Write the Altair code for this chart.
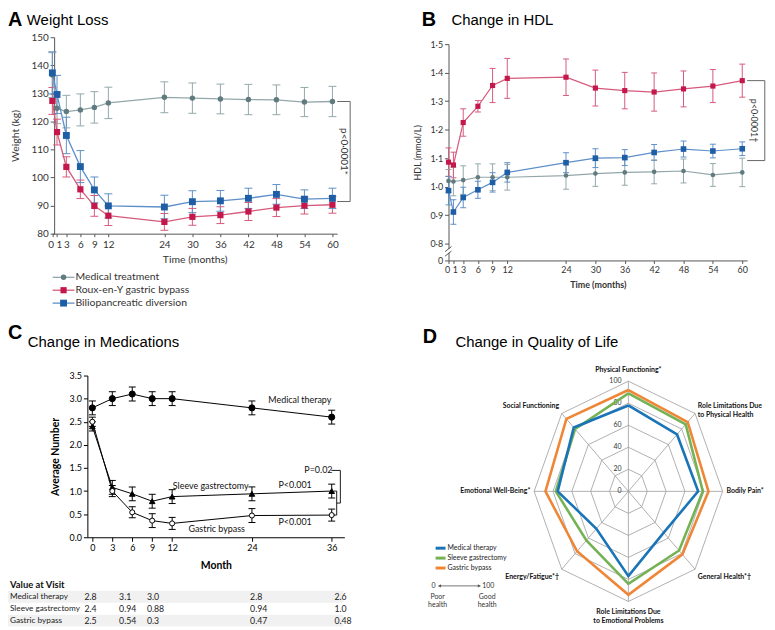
import altair as alt
import pandas as pd

W, H = 765, 620
F_AB = "Lato, Open Sans, sans-serif"
F_N = "Lato, Liberation Sans, sans-serif"
F_T = "Liberation Sans, Arial, sans-serif"

# ---------------- Panel A / B data ----------------
months_ab = [0, 1, 3, 6, 9, 12, 24, 30, 36, 42, 48, 54, 60]
groups_ab = ["Medical treatment", "Roux-en-Y gastric bypass", "Biliopancreatic diversion"]

weight_medical = [136.5, 124.7, 123.5, 124.1, 125.0, 126.6, 128.6, 128.3, 128.0, 127.8, 127.7, 126.9, 127.1]
weight_medical_err = [8.0, 5.5, 5.8, 5.7, 5.6, 5.6, 5.5, 5.4, 5.3, 5.4, 5.3, 5.2, 5.4]
weight_rygb = [127.3, 116.2, 103.8, 95.8, 89.9, 86.4, 84.2, 86.0, 86.6, 87.9, 89.3, 90.0, 90.3]
weight_rygb_err = [4.8, 4.6, 3.6, 3.3, 3.7, 3.5, 3.0, 3.0, 3.0, 3.2, 3.2, 3.0, 3.0]
weight_bpd = [137.3, 129.6, 115.0, 103.9, 95.6, 89.9, 89.5, 91.4, 91.7, 92.6, 94.0, 92.3, 92.6]
weight_bpd_err = [7.5, 6.8, 6.5, 5.7, 4.6, 4.3, 4.2, 3.9, 3.7, 3.6, 3.5, 3.3, 3.6]

hdl_medical = [1.020, 1.018, 1.023, 1.033, 1.033, 1.033, 1.039, 1.046, 1.050, 1.052, 1.055, 1.041, 1.050]
hdl_medical_err = [0.040, 0.050, 0.050, 0.047, 0.047, 0.045, 0.048, 0.045, 0.045, 0.042, 0.042, 0.040, 0.050]
hdl_rygb = [1.086, 1.076, 1.225, 1.282, 1.355, 1.380, 1.384, 1.346, 1.337, 1.332, 1.343, 1.353, 1.372]
hdl_rygb_err = [0.050, 0.045, 0.048, 0.020, 0.060, 0.070, 0.064, 0.063, 0.064, 0.067, 0.063, 0.058, 0.058]
hdl_bpd = [0.986, 0.911, 0.962, 0.989, 1.015, 1.050, 1.084, 1.100, 1.102, 1.120, 1.132, 1.125, 1.133]
hdl_bpd_err = [0.050, 0.043, 0.036, 0.030, 0.034, 0.034, 0.035, 0.033, 0.028, 0.028, 0.028, 0.024, 0.024]

weight_ticks = [80, 90, 100, 110, 120, 130, 140, 150]
hdl_ticks = [0.741, 0.8, 0.9, 1.0, 1.1, 1.2, 1.3, 1.4, 1.5]

line_cols = ["#93a7aa", "#d65a7c", "#5d8fc8"]
mark_cols = ["#5f7b7f", "#c4174b", "#1d5ea5"]
shapes_ab = ["circle", "square", "square"]

# ---------------- Panel C data ----------------
months_c = [0, 3, 6, 9, 12, 24, 36]
groups_c = ["Medical therapy", "Sleeve gastrectomy", "Gastric bypass"]
meds_medical = [2.8, 3.0, 3.1, 3.0, 3.0, 2.8, 2.6]
meds_medical_err = [0.15, 0.15, 0.15, 0.15, 0.15, 0.15, 0.15]
meds_sleeve = [2.4, 1.08, 0.94, 0.78, 0.88, 0.94, 1.0]
meds_sleeve_err = [0.1, 0.15, 0.15, 0.15, 0.15, 0.15, 0.15]
meds_bypass = [2.5, 1.0, 0.54, 0.36, 0.3, 0.47, 0.48]
meds_bypass_err = [0.1, 0.12, 0.12, 0.15, 0.13, 0.15, 0.13]
meds_ticks = [0, 0.5, 1.0, 1.5, 2.0, 2.5, 3.0, 3.5]

c_note_text = ["Medical therapy", "Sleeve gastrectomy", "Gastric bypass", "P<0.001", "P<0.001", "P=0.02"]
c_note_month = [31.2, 17.8, 18.7, 30.5, 30.5, 34.0]
c_note_value = [2.97, 1.10, 0.17, 1.14, 0.34, 1.447]

table_rows = ["Medical therapy", "Sleeve gastrectomy", "Gastric bypass"]
table_months = [0, 6, 12, 24, 36]
table_medical = ["2.8", "3.1", "3.0", "2.8", "2.6"]
table_sleeve = ["2.4", "0.94", "0.88", "0.94", "1.0"]
table_bypass = ["2.5", "0.54", "0.3", "0.47", "0.48"]

# ---------------- Panel D data ----------------
qol_domains = ["Physical Functioning*", "Role Limitations Due\nto Physical Health", "Bodily Pain*",
               "General Health*\u2020", "Role Limitations Due\nto Emotional Problems", "Energy/Fatigue*\u2020",
               "Emotional Well-Being*", "Social Functioning"]
groups_d = ["Medical therapy", "Sleeve gastrectomy", "Gastric bypass"]
qol_medical = [78, 73, 74, 53, 77, 48, 75, 82]
qol_sleeve = [89, 86, 79, 76, 84, 63, 77, 80]
qol_bypass = [92, 89, 85, 81, 94, 77, 88, 93]
qol_levels = [20, 40, 60, 80, 100]
qol_tick_labels = [0, 20, 40, 60, 80, 100]
d_cols = ["#1a74b8", "#74b254", "#ef8636"]


def long_df(months, groups, series, errors):
    rows = []
    for g, vals, errs in zip(groups, series, errors):
        for m, v, e in zip(months, vals, errs):
            rows.append({"month": m, "group": g, "value": v, "lo": v - e, "hi": v + e})
    return pd.DataFrame(rows)


def txt(text, x, y, size, weight="normal", font=F_T, align="left", baseline="alphabetic", color="#000"):
    return alt.Chart(pd.DataFrame({"t": [text]})).mark_text(
        align=align, baseline=baseline, font=font, fontSize=size, fontWeight=weight, color=color
    ).encode(x=alt.value(x), y=alt.value(y), text="t:N")


def series_panel(df, X, Y, cap, sizes, lw):
    base = alt.Chart(df)
    col = alt.Color("group:N", scale=alt.Scale(domain=groups_ab, range=line_cols), legend=None)
    err = base.mark_rule(strokeWidth=1).encode(x=X("month:Q"), y=Y("lo:Q"), y2="hi:Q", color=col)
    cap_lo = base.mark_tick(orient="horizontal", size=cap, thickness=1, opacity=1).encode(
        x=X("month:Q"), y=Y("lo:Q"), color=col)
    cap_hi = base.mark_tick(orient="horizontal", size=cap, thickness=1, opacity=1).encode(
        x=X("month:Q"), y=Y("hi:Q"), color=col)
    line = base.mark_line(strokeWidth=lw).encode(x=X("month:Q"), y=Y("value:Q"), color=col, order="month:Q")
    pts = base.mark_point(filled=True, opacity=1).encode(
        x=X("month:Q"), y=Y("value:Q"),
        fill=alt.Fill("group:N", scale=alt.Scale(domain=groups_ab, range=mark_cols), legend=None),
        shape=alt.Shape("group:N", scale=alt.Scale(domain=groups_ab, range=shapes_ab), legend=None),
        size=alt.Size("group:N", scale=alt.Scale(domain=groups_ab, range=sizes), legend=None))
    return [err, cap_lo, cap_hi, line, pts]


def bracket_df(x0, x1, top, bot):
    return pd.DataFrame({"x": [x0, x1, x0], "x2": [x1, x1, x1], "y": [top, top, bot], "y2": [top, bot, bot]})


axis_common = dict(grid=False, labelOverlap=False, labelFlush=False, domainColor="#555", tickColor="#555",
                   labelColor="#333", titleColor="#333")


def month_label_offset(d):
    return {"condition": [{"test": "datum.value == 0", "value": -d},
                          {"test": "datum.value == 1", "value": d}], "value": 0}


def make_enc(scale, axis, ch):
    if ch == "x":
        return lambda f: alt.X(f, scale=scale, axis=axis)
    return lambda f: alt.Y(f, scale=scale, axis=axis)


# ================= Panel A =================
df_a = long_df(months_ab, groups_ab, [weight_medical, weight_rygb, weight_bpd],
               [weight_medical_err, weight_rygb_err, weight_bpd_err])
xa = alt.Scale(domain=[0, 61], range=[44.7, 331.7], nice=False, zero=False)
ya = alt.Scale(domain=[80, 150], range=[225, 27], nice=False, zero=False)
ax_a_x = alt.Axis(orient="bottom", offset=225 - H, values=months_ab, tickSize=3, labelFont=F_AB,
                  labelFontSize=10, labelPadding=3, labelOffset=month_label_offset(1.8), title="Time (months)",
                  titleFont=F_AB, titleFontSize=10.5, titleFontWeight="normal", titlePadding=5, **axis_common)
ax_a_y = alt.Axis(orient="left", offset=-46.5, values=weight_ticks, tickSize=4, labelFont=F_AB,
                  labelFontSize=10, labelPadding=2, title="Weight (kg)", titleFont=F_AB,
                  titleFontSize=10.5, titleFontWeight="normal", titlePadding=11, **axis_common)
XA = make_enc(xa, ax_a_x, "x")
YA = make_enc(ya, ax_a_y, "y")
layers_a = series_panel(df_a, XA, YA, 8, [30, 48, 48], 1.3)
top_a = weight_medical[-1]
bot_a = (weight_rygb[-1] + weight_bpd[-1]) / 2
br_a = alt.Chart(bracket_df(61.0, 63.8, top_a, bot_a)).mark_rule(color="#666", strokeWidth=1).encode(
    x=XA("x:Q"), x2="x2:Q", y=YA("y:Q"), y2="y2:Q")
pt_a = alt.Chart(pd.DataFrame({"t": ["p<0\u00b70001*"], "x": [62.5], "y": [(top_a + bot_a) / 2]})).mark_text(
    angle=90, align="center", baseline="middle", font=F_AB, fontSize=10, color="#333").encode(
    x=XA("x:Q"), y=YA("y:Q"), text="t:N")
panel_a = alt.layer(*layers_a, br_a, pt_a)

# ================= Panel B =================
df_b = long_df(months_ab, groups_ab, [hdl_medical, hdl_rygb, hdl_bpd],
               [hdl_medical_err, hdl_rygb_err, hdl_bpd_err])
xb = alt.Scale(domain=[0, 61], range=[444, 745], nice=False, zero=False)
yb = alt.Scale(domain=[0.741, 1.5], range=[252, 34], nice=False, zero=False)
ax_b_x = alt.Axis(orient="bottom", offset=252 - H, values=months_ab, tickSize=3, labelFont=F_AB,
                  labelFontSize=9, labelPadding=2, labelOffset=month_label_offset(1.5), title="Time (months)",
                  titleFont=F_AB, titleFontSize=9, titleFontWeight="bold", titlePadding=6, **axis_common)
ax_b_y = alt.Axis(orient="left", offset=-444, values=hdl_ticks, tickSize=4, labelFont=F_AB,
                  labelFontSize=9, labelPadding=2,
                  labelExpr="datum.value < 0.77 ? '0' : replace(format(datum.value, '.1f'), '.', '\u00b7')",
                  title="HDL (mmol/L)", titleFont=F_AB, titleFontSize=9, titleFontWeight="normal",
                  titlePadding=7, **axis_common)
XB = make_enc(xb, ax_b_x, "x")
YB = make_enc(yb, ax_b_y, "y")
layers_b = series_panel(df_b, XB, YB, 6, [22, 32, 32], 1.2)
top_b = hdl_rygb[-1]
bot_b = (hdl_bpd[-1] + hdl_medical[-1]) / 2
br_b = alt.Chart(bracket_df(61.0, 64.6, top_b, bot_b)).mark_rule(color="#666", strokeWidth=1).encode(
    x=XB("x:Q"), x2="x2:Q", y=YB("y:Q"), y2="y2:Q")
pt_b = alt.Chart(pd.DataFrame({"t": ["p<0\u00b70001\u2020"], "x": [62.4], "y": [(top_b + bot_b) / 2]})).mark_text(
    angle=90, align="center", baseline="middle", font=F_AB, fontSize=9, color="#333").encode(
    x=XB("x:Q"), y=YB("y:Q"), text="t:N")
gap_b = alt.Chart(pd.DataFrame({"x": [0.0], "y": [0.768], "y2": [0.781]})).mark_rule(
    color="white", strokeWidth=3).encode(x=XB("x:Q"), y=YB("y:Q"), y2="y2:Q")
brk_b = alt.Chart(pd.DataFrame({"x": [-0.7, -0.7], "x2": [0.6, 0.6], "y": [0.772, 0.756],
                                "y2": [0.790, 0.774]})).mark_rule(color="#555", strokeWidth=1).encode(
    x=XB("x:Q"), x2="x2:Q", y=YB("y:Q"), y2="y2:Q")
panel_b = alt.layer(*layers_b, br_b, pt_b, gap_b, brk_b)

# ================= Panel C =================
df_c = long_df(months_c, groups_c, [meds_medical, meds_sleeve, meds_bypass],
               [meds_medical_err, meds_sleeve_err, meds_bypass_err])
xc = alt.Scale(domain=[-0.75, 37.9], range=[80, 339], nice=False, zero=False)
yc = alt.Scale(domain=[0, 3.5], range=[531, 368], nice=False, zero=False)
c_axis_style = dict(grid=False, labelOverlap=False, labelFlush=False, domainColor="#000", tickColor="#000",
                    labelColor="#000", titleColor="#000")
ax_c_x = alt.Axis(orient="bottom", offset=531 - H, values=months_c, tickSize=4, labelFont=F_N,
                  labelFontSize=9, labelPadding=2, title="Month", titleFont=F_N, titleFontSize=10.5,
                  titleFontWeight="bold", titlePadding=8, **c_axis_style)
ax_c_y = alt.Axis(orient="left", offset=-80, values=meds_ticks, format=".1f", tickSize=4, labelFont=F_N,
                  labelFontSize=9, labelPadding=2, title="Average Number", titleFont=F_N,
                  titleFontSize=10.5, titleFontWeight="bold", titlePadding=9, **c_axis_style)
XC = make_enc(xc, ax_c_x, "x")
YC = make_enc(yc, ax_c_y, "y")
base_c = alt.Chart(df_c)
err_c = base_c.mark_rule(color="black", strokeWidth=1).encode(x=XC("month:Q"), y=YC("lo:Q"), y2="hi:Q")
caplo_c = base_c.mark_tick(orient="horizontal", size=7, thickness=1, color="black", opacity=1).encode(
    x=XC("month:Q"), y=YC("lo:Q"))
caphi_c = base_c.mark_tick(orient="horizontal", size=7, thickness=1, color="black", opacity=1).encode(
    x=XC("month:Q"), y=YC("hi:Q"))
line_c = base_c.mark_line(color="black", strokeWidth=1).encode(
    x=XC("month:Q"), y=YC("value:Q"), detail="group:N", order="month:Q")
pts_c = base_c.mark_point(filled=True, opacity=1, stroke="black", strokeWidth=1).encode(
    x=XC("month:Q"), y=YC("value:Q"),
    fill=alt.Fill("group:N", scale=alt.Scale(domain=groups_c, range=["black", "black", "white"]), legend=None),
    shape=alt.Shape("group:N", scale=alt.Scale(domain=groups_c, range=["circle", "triangle-up", "circle"]),
                    legend=None),
    size=alt.Size("group:N", scale=alt.Scale(domain=groups_c, range=[38, 26, 30]), legend=None))
notes_c = alt.Chart(pd.DataFrame({"t": c_note_text, "m": c_note_month, "v": c_note_value})).mark_text(
    align="center", baseline="middle", font=F_N, fontSize=9, color="#111").encode(
    x=XC("m:Q"), y=YC("v:Q"), text="t:N")
mid_c = (meds_sleeve[-1] + meds_bypass[-1]) / 2
br_c = pd.DataFrame({
    "x": [35.95, 37.3, 36.75, 36.75, 36.3, 36.3],
    "x2": [37.3, 37.3, 37.3, 36.75, 36.75, 36.75],
    "y": [1.447, 1.447, mid_c, meds_sleeve[-1], meds_sleeve[-1], meds_bypass[-1]],
    "y2": [1.447, mid_c, mid_c, meds_bypass[-1], meds_sleeve[-1], meds_bypass[-1]],
})
brk_c = alt.Chart(br_c).mark_rule(color="black", strokeWidth=0.9).encode(
    x=XC("x:Q"), x2="x2:Q", y=YC("y:Q"), y2="y2:Q")
panel_c = alt.layer(err_c, caplo_c, caphi_c, line_c, pts_c, notes_c, brk_c)

# ---- table under C ----
trows = []
for r, vals in zip(table_rows, [table_medical, table_sleeve, table_bypass]):
    for m, v in zip(table_months, vals):
        trows.append({"row": r, "month": m, "val": v})
df_t = pd.DataFrame(trows)
ty = alt.Scale(type="band", domain=table_rows, range=[585, 621], paddingInner=0, paddingOuter=0)
tx = alt.Scale(domain=table_months, range=[77, 112, 140, 244, 329])
shade_t = alt.Chart(pd.DataFrame({"row": [table_rows[0], table_rows[2]]})).mark_rect(color="#f1f1f1").encode(
    y=alt.Y("row:N", scale=ty, axis=None), x=alt.value(0), x2=alt.value(338))
vals_t = alt.Chart(df_t).mark_text(align="left", baseline="middle", font=F_N, fontSize=8.8, color="#222").encode(
    x=alt.X("month:Q", scale=tx, axis=None), y=alt.Y("row:N", scale=ty, axis=None), text="val:N")
labs_t = alt.Chart(pd.DataFrame({"row": table_rows})).mark_text(
    align="left", baseline="middle", font=F_N, fontSize=8.3, color="#222").encode(
    x=alt.value(2), y=alt.Y("row:N", scale=ty, axis=None), text="row:N")
table_c = alt.layer(shade_t, vals_t, labs_t)

# ================= Panel D (radar) =================
rrows = []
for g, vals in zip(reversed(groups_d), [qol_bypass, qol_sleeve, qol_medical]):
    for k in range(9):
        rrows.append({"group": g, "k": k, "value": vals[k % 8]})
df_d = pd.DataFrame(rrows)
df_ring = pd.DataFrame([{"level": L, "k": k} for L in qol_levels for k in range(9)])
df_spoke = pd.DataFrame({"k": list(range(8))})
df_lab = pd.DataFrame({"name": qol_domains, "k": list(range(8))})
df_tl = pd.DataFrame({"level": qol_tick_labels})

xd = alt.Scale(domain=[-100, 100], range=[530.3, 720.3], nice=False, zero=False)
yd = alt.Scale(domain=[-100, 100], range=[595.7, 373.7], nice=False, zero=False)
XD = make_enc(xd, None, "x")
YD = make_enc(yd, None, "y")

rings = alt.Chart(df_ring).transform_calculate(
    px="datum.level * sin(datum.k * PI / 4)", py="datum.level * cos(datum.k * PI / 4)"
).mark_line(color="#9c9c9c", strokeWidth=0.8).encode(x=XD("px:Q"), y=YD("py:Q"), detail="level:N", order="k:Q")
spokes = alt.Chart(df_spoke).transform_calculate(
    z="0", sx="100 * sin(datum.k * PI / 4)", sy="100 * cos(datum.k * PI / 4)"
).mark_rule(color="#9c9c9c", strokeWidth=0.8).encode(x=XD("z:Q"), y=YD("z:Q"), x2="sx:Q", y2="sy:Q")
tl = alt.Chart(df_tl).transform_calculate(z="0").mark_text(
    align="right", baseline="middle", dx=-7, font=F_N, fontSize=7, color="#333").encode(
    x=XD("z:Q"), y=YD("level:Q"), text="level:N")
radar = alt.Chart(df_d).transform_calculate(
    px="datum.value * sin(datum.k * PI / 4)", py="datum.value * cos(datum.k * PI / 4)"
).mark_line(strokeWidth=2.6, strokeJoin="miter").encode(
    x=XD("px:Q"), y=YD("py:Q"), order="k:Q",
    color=alt.Color("group:N", scale=alt.Scale(domain=groups_d, range=d_cols), legend=None))


def dlabels(ks, align):
    return alt.Chart(df_lab).transform_filter(
        alt.FieldOneOfPredicate(field="k", oneOf=ks)
    ).transform_calculate(
        lx="104 * sin(datum.k * PI / 4)", ly="110 * cos(datum.k * PI / 4)"
    ).mark_text(align=align, baseline="middle", lineBreak="\n", lineHeight=9, font=F_N, fontSize=7,
                fontWeight="bold", color="#111").encode(x=XD("lx:Q"), y=YD("ly:Q"), text="name:N")


panel_d = alt.layer(rings, spokes, tl, radar, dlabels([0, 4], "center"), dlabels([1, 2, 3], "left"),
                    dlabels([5, 6, 7], "right"))

# ================= Legends =================
leg_a_y = alt.Y("group:N", scale=alt.Scale(type="point", domain=groups_ab, range=[269, 295], padding=0), axis=None)
leg_a = alt.layer(
    alt.Chart(pd.DataFrame({"group": groups_ab})).mark_rule(strokeWidth=1.3).encode(
        x=alt.value(45), x2=alt.value(67), y=leg_a_y,
        color=alt.Color("group:N", scale=alt.Scale(domain=groups_ab, range=line_cols), legend=None)),
    alt.Chart(pd.DataFrame({"group": groups_ab})).mark_point(filled=True, opacity=1).encode(
        x=alt.value(56), y=leg_a_y,
        fill=alt.Fill("group:N", scale=alt.Scale(domain=groups_ab, range=mark_cols), legend=None),
        shape=alt.Shape("group:N", scale=alt.Scale(domain=groups_ab, range=shapes_ab), legend=None),
        size=alt.Size("group:N", scale=alt.Scale(domain=groups_ab, range=[30, 48, 48]), legend=None)),
    alt.Chart(pd.DataFrame({"group": groups_ab})).mark_text(
        align="left", baseline="middle", font=F_AB, fontSize=10.5, color="#333").encode(
        x=alt.value(68), y=leg_a_y, text="group:N"),
)

leg_d_y = alt.Y("group:N", scale=alt.Scale(type="point", domain=groups_d, range=[542, 562], padding=0), axis=None)
leg_d = alt.layer(
    alt.Chart(pd.DataFrame({"group": groups_d})).mark_rule(strokeWidth=3).encode(
        x=alt.value(431), x2=alt.value(441), y=leg_d_y,
        color=alt.Color("group:N", scale=alt.Scale(domain=groups_d, range=d_cols), legend=None)),
    alt.Chart(pd.DataFrame({"group": groups_d})).mark_text(
        align="left", baseline="middle", font=F_N, fontSize=7, color="#222").encode(
        x=alt.value(443), y=leg_d_y, text="group:N"),
)
arrow_d = alt.layer(
    alt.Chart(pd.DataFrame({"a": [0]})).mark_rule(color="#555", strokeWidth=0.8).encode(
        x=alt.value(434), x2=alt.value(476), y=alt.value(580)),
    alt.Chart(pd.DataFrame({"a": [0]})).mark_point(shape="triangle-left", filled=True, color="#555",
                                                   size=12, opacity=1).encode(x=alt.value(435), y=alt.value(580)),
    alt.Chart(pd.DataFrame({"a": [0]})).mark_point(shape="triangle-right", filled=True, color="#555",
                                                   size=12, opacity=1).encode(x=alt.value(475), y=alt.value(580)),
    txt("0", 429, 580, 7, font=F_N, align="center", baseline="middle", color="#333"),
    txt("100", 478, 580, 7, font=F_N, align="left", baseline="middle", color="#333"),
    txt("Poor", 433, 591, 7, font=F_N, align="center", baseline="middle", color="#333"),
    txt("health", 433, 599, 7, font=F_N, align="center", baseline="middle", color="#333"),
    txt("Good", 483, 591, 7, font=F_N, align="center", baseline="middle", color="#333"),
    txt("health", 483, 599, 7, font=F_N, align="center", baseline="middle", color="#333"),
)

# ================= Titles =================
titles = alt.layer(
    txt("A", 0, 16, 20, weight="bold"),
    txt("Weight Loss", 19, 15, 15),
    txt("B", 417, 16, 20, weight="bold"),
    txt("Change in HDL", 447, 15, 15),
    txt("C", 0, 331, 20, weight="bold"),
    txt("Change in Medications", 20, 339, 15),
    txt("D", 418, 335, 20, weight="bold"),
    txt("Change in Quality of Life", 451, 339, 15),
    txt("Value at Visit", 2, 579, 9.5, weight="bold", font=F_N, baseline="middle", color="#111"),
)

chart = alt.layer(
    panel_a, panel_b, panel_c, table_c, panel_d, leg_a, leg_d, arrow_d, titles
).resolve_scale(
    x="independent", y="independent", color="independent", fill="independent",
    shape="independent", size="independent"
).resolve_axis(x="independent", y="independent").properties(
    width=W, height=H, autosize=alt.AutoSizeParams(type="none"), padding=0
).configure_view(stroke="transparent")

chart.save("out.html", embed_options={"renderer": "svg", "actions": False})
